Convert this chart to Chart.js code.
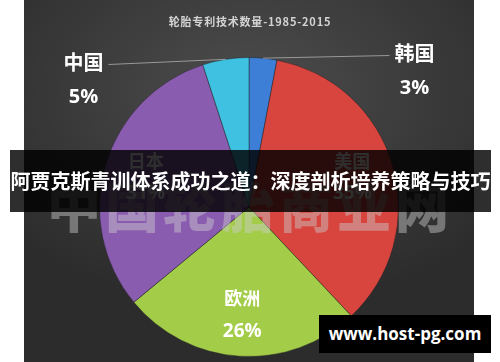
<!DOCTYPE html>
<html>
<head>
<meta charset="utf-8">
<script src="https://cdn.jsdelivr.net/npm/chart.js@4"></script>
<style>
  body { margin: 0; background: #fff; }
  #wrap { position: relative; width: 500px; height: 362px; overflow: hidden; font-family: "Noto Sans CJK SC", sans-serif; }
  #panel { position: absolute; left: 24px; top: 0; width: 450px; height: 362px;
    background: radial-gradient(ellipse 70% 60% at 50% 25%, #4d4d4d, #2c2c2c); }
  #c { position: absolute; left: 0; top: 0; }
  #title { position: absolute; left: 0; width: 500px; top: 13px; text-align: center; color: #d4d4d4;
    font-size: 11px; font-weight: 700; letter-spacing: 0.8px; }
  #mark { position: absolute; left: 0; width: 500px; top: 174px; text-align: center; color: rgba(205,205,205,0.45);
    font-size: 54px; font-weight: 900; letter-spacing: 4px; line-height: 62px; }
  #banner { position: absolute; left: 10px; width: 481px; top: 150px; height: 62px; background: rgba(0,0,0,0.82);
    color: #fff; font-size: 20px; font-weight: 700; line-height: 62px; text-align: center; white-space: nowrap; }
  #site { position: absolute; left: 319px; top: 315px; width: 172px; height: 38px; background: #000;
    color: #fff; font-size: 17px; font-weight: 700; line-height: 38px; text-align: center; font-family: "Open Sans", sans-serif; }
</style>
</head>
<body>
<div id="wrap">
  <div id="panel"></div>
  <canvas id="c" width="500" height="362"></canvas>
  <div id="title">轮胎专利技术数量-1985-2015</div>
  <div id="mark">中国轮胎商业网</div>
  <div id="banner">阿贾克斯青训体系成功之道：深度剖析培养策略与技巧</div>
  <div id="site">www.host-pg.com</div>
</div>
<script>
// data
const regions = ["韩国", "美国", "欧洲", "日本", "中国"];
const shares = [3, 35, 26, 31, 5];
const sliceColors = ["#3d7fd6", "#d8453f", "#a3cc49", "#8a5cb0", "#3fc1e1"];

// labels: small slices get an outside label with a leader line
const sliceLabels = {
  id: "sliceLabels",
  afterDatasetsDraw(chart) {
    const ctx = chart.ctx;
    const arcs = chart.getDatasetMeta(0).data;
    ctx.save();
    ctx.fillStyle = "#fff";
    ctx.textAlign = "center";
    ctx.textBaseline = "middle";
    arcs.forEach((arc, i) => {
      const p = arc.getProps(["x", "y", "startAngle", "endAngle", "outerRadius"], true);
      const mid = (p.startAngle + p.endAngle) / 2;
      const pct = shares[i] + "%";
      if (shares[i] < 8) {
        const side = Math.cos(mid) >= 0 ? 1 : -1;
        const lx = p.x + side * (p.outerRadius + 16);
        const top = p.y - p.outerRadius;
        const ny = side > 0 ? top - 4 : top + 5;
        // leader line
        const ex = p.x + Math.cos(mid) * p.outerRadius;
        const ey = p.y + Math.sin(mid) * p.outerRadius;
        ctx.strokeStyle = "rgba(190,190,190,0.7)";
        ctx.lineWidth = 1;
        ctx.beginPath();
        ctx.moveTo(ex, ey);
        ctx.lineTo(lx - side * 25, ny + 2);
        ctx.stroke();
        ctx.font = "700 20px 'Noto Sans CJK SC'";
        ctx.fillText(regions[i], lx, ny);
        ctx.font = "700 20px 'Open Sans'";
        ctx.fillText(pct, lx, ny + 35);
      } else {
        const r = p.outerRadius * 0.72;
        const cx = p.x + Math.cos(mid) * r;
        const cy = p.y + Math.sin(mid) * r;
        ctx.font = "700 18px 'Noto Sans CJK SC'";
        ctx.fillText(regions[i], cx, cy - 16);
        ctx.font = "700 19px 'Open Sans'";
        ctx.fillText(pct, cx, cy + 17);
      }
    });
    ctx.restore();
  }
};

new Chart(document.getElementById("c"), {
  type: "pie",
  data: {
    labels: regions,
    datasets: [{
      data: shares,
      backgroundColor: sliceColors,
      borderColor: "rgba(30,30,30,0.45)",
      borderWidth: 1
    }]
  },
  options: {
    responsive: false,
    animation: false,
    layout: { padding: { top: 57, bottom: 5, left: 0, right: 2 } },
    plugins: { legend: { display: false }, tooltip: { enabled: false } }
  },
  plugins: [sliceLabels]
});
</script>
</body>
</html>
